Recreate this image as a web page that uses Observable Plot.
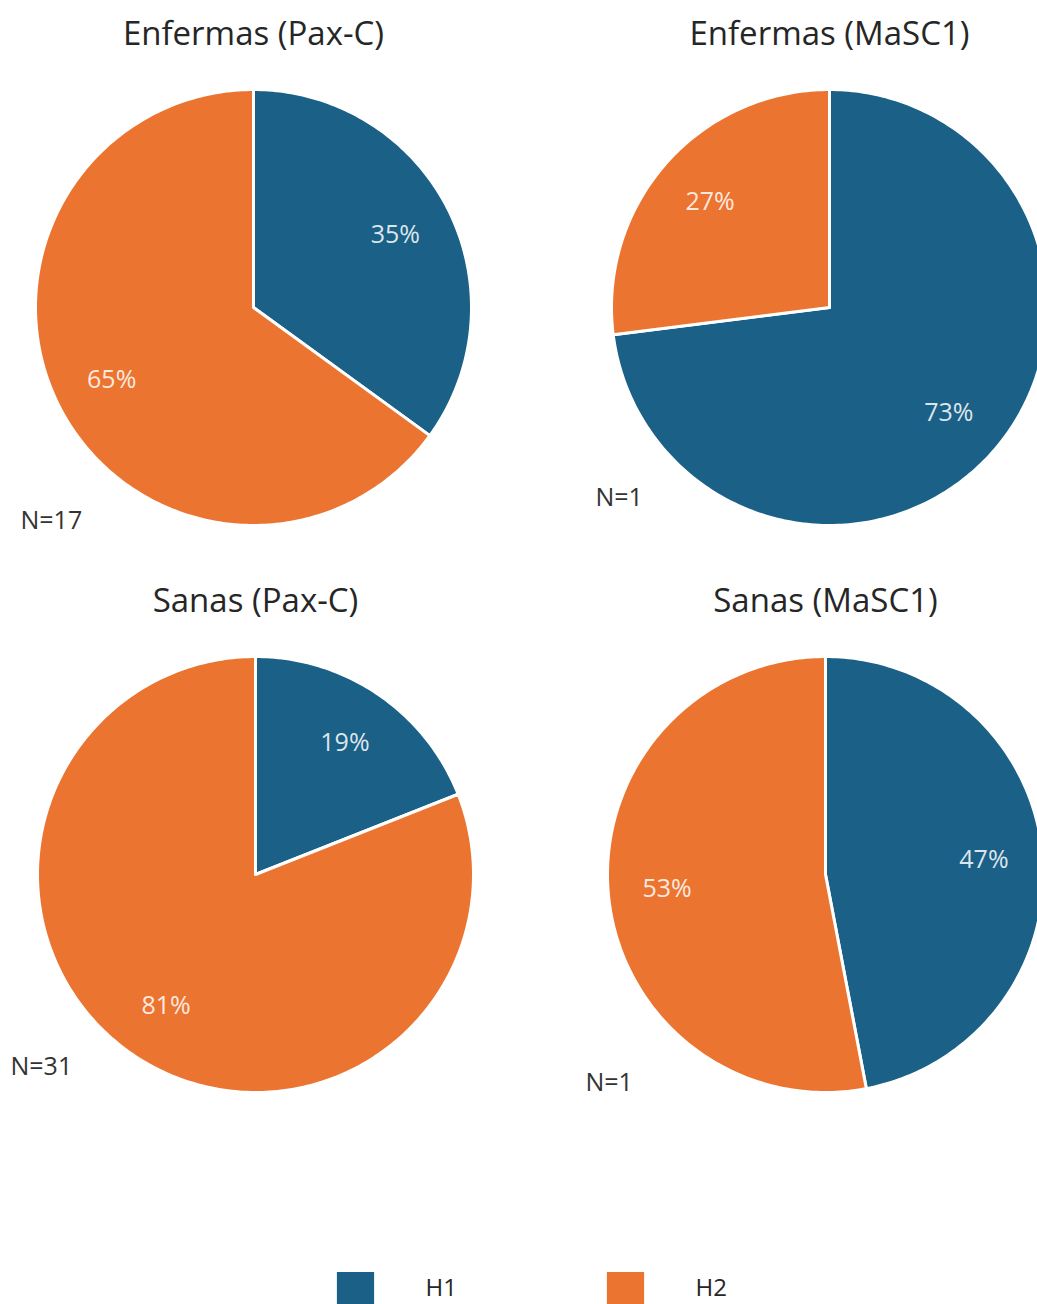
<!DOCTYPE html>
<html><head><meta charset="utf-8">
<script src="https://cdn.jsdelivr.net/npm/d3@7"></script>
<script src="https://cdn.jsdelivr.net/npm/@observablehq/plot@0.6"></script>
<style>
body{margin:0;background:#fff;overflow:hidden}
svg{display:block}
</style></head><body>
<div id="chart"></div>
<script>
// ---- data ----
const panels = ["Enfermas (Pax-C)", "Enfermas (MaSC1)", "Sanas (Pax-C)", "Sanas (MaSC1)"];
const series = ["H1", "H2"];
const h1Values = [35, 73, 19, 47];
const h2Values = [65, 27, 81, 53];
const nLabels = ["N=17", "N=1", "N=31", "N=1"];
const colors = ["#1a6087", "#ec7431"];

// ---- layout ----
const W = 1037, H = 1304, R = 218;
const layout = [
  {cx: 253, cy: 307, ty: 34, nx: 20, ny: 520},
  {cx: 829, cy: 307, ty: 34, nx: 595, ny: 497},
  {cx: 255, cy: 874, ty: 601, nx: 10, ny: 1066},
  {cx: 825, cy: 874, ty: 601, nx: 585, ny: 1082}
];
const legendY = 1290, legendX = [355, 625];

const wedges = [], labels = [], titles = [], ns = [];
panels.forEach((p, i) => {
  const {cx, cy, ty, nx, ny} = layout[i];
  const vals = [h1Values[i], h2Values[i]];
  const total = d3.sum(vals);
  let a = 0;
  vals.forEach((v, j) => {
    const a0 = a, a1 = a + v / total * 360;
    const key = p + "|" + series[j];
    const pts = [[cx, cy]];
    const steps = Math.max(2, Math.ceil(a1 - a0));
    for (let k = 0; k <= steps; k++) {
      const t = (a0 + (a1 - a0) * k / steps) * Math.PI / 180;
      pts.push([cx + R * Math.sin(t), cy - R * Math.cos(t)]);
    }
    pts.push([cx, cy]);
    pts.forEach(([x, y]) => wedges.push({key, s: series[j], x, y}));
    const m = ((a0 + a1) / 2) * Math.PI / 180;
    labels.push({x: cx + R * 0.73 * Math.sin(m), y: cy - R * 0.73 * Math.cos(m), text: v + "%"});
    a = a1;
  });
  titles.push({x: cx, y: ty, text: p});
  ns.push({x: nx, y: ny, text: nLabels[i]});
});
const legend = series.map((s, j) => ({s, x: legendX[j], y: legendY}));

const chart = Plot.plot({
  width: W, height: H,
  margin: 0,
  x: {type: "identity", axis: null},
  y: {type: "identity", axis: null},
  color: {domain: series, range: colors},
  style: {fontFamily: "'Open Sans', sans-serif", background: "#fff"},
  marks: [
    Plot.line(wedges, {x: "x", y: "y", z: "key", fill: "s", stroke: "#fff", strokeWidth: 3, strokeLinejoin: "round", curve: "linear"}),
    Plot.text(labels, {x: "x", y: "y", text: "text", fill: "#fff", fillOpacity: 0.86, fontSize: 25, letterSpacing: "1px"}),
    Plot.text(titles, {x: "x", y: "y", text: "text", fill: "#262626", fontSize: 33, letterSpacing: "1.8px"}),
    Plot.text(ns, {x: "x", y: "y", text: "text", fill: "#333", fontSize: 25, letterSpacing: "0.8px", textAnchor: "start"}),
    Plot.dot(legend, {x: "x", y: "y", fill: "s", symbol: "square", r: 21}),
    Plot.text(legend, {x: d => d.x + 70, y: d => d.y - 2, text: "s", fill: "#262626", fontSize: 24, textAnchor: "start"})
  ]
});
document.getElementById("chart").appendChild(chart);
</script>
</body></html>
